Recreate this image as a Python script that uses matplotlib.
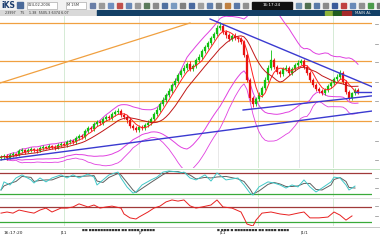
import numpy as np
import pandas as pd
import matplotlib
matplotlib.use("Agg")
import matplotlib.pyplot as plt
from matplotlib.patches import Rectangle

# ---------------- data ----------------
closes = [15,16,14,17,18,17,21,22,20,22,23,22,21,24,25,24,26,25,24,27,
          28,27,30,31,30,34,36,35,41,44,43,48,50,49,53,55,54,58,60,61,
          57,55,52,46,44,42,45,44,47,49,53,58,62,68,72,77,81,87,91,97,
          101,104,108,103,106,112,115,121,125,129,134,138,144,146,140,137,133,136,134,133,
          130,117,92,74,68,73,77,84,92,104,112,105,100,98,103,104,99,103,107,109,
          111,105,99,92,87,83,81,79,82,86,89,93,95,99,90,80,74,79,82,80]
opens = [14,15,16,14,17,18,17,21,22,20,22,23,22,21,24,25,24,26,25,24,
         27,28,27,30,31,30,34,36,35,41,44,43,48,50,49,53,55,54,58,60,
         61,57,55,52,46,44,42,45,44,47,49,53,58,62,68,72,77,81,87,91,
         97,101,104,108,103,106,112,115,121,125,129,134,138,144,146,140,137,133,136,134,
         133,130,117,92,74,68,73,77,84,92,104,112,105,100,98,103,104,99,103,107,
         109,111,105,99,92,87,83,81,79,82,86,89,93,95,99,90,80,74,79,82]
highs = [17,18,18,19,20,19,23,24,23,24,25,24,24,26,27,26,28,27,27,29,
         30,30,32,33,33,36,38,38,43,46,46,50,52,52,55,57,57,60,62,64,
         63,59,57,54,48,46,47,47,49,52,55,60,65,70,75,79,84,89,94,99,
         103,107,110,111,108,114,118,123,127,131,136,140,147,150,148,142,139,138,139,136,
         135,132,119,94,76,75,80,86,95,107,122,114,107,102,105,107,106,105,109,112,
         113,113,107,101,94,89,85,83,84,88,91,95,98,102,101,92,82,80,84,84]
lows = [12,13,12,13,15,16,16,19,18,19,20,20,19,20,22,23,23,23,22,23,
        25,26,25,28,28,28,32,33,33,39,41,41,46,47,47,51,52,52,56,58,
        55,53,49,44,42,40,40,42,42,45,47,51,56,60,66,70,75,79,85,89,
        95,99,102,101,101,104,110,113,119,123,127,132,136,142,138,134,131,131,132,130,
        128,115,90,71,65,66,71,75,82,90,102,103,98,95,96,101,97,97,101,105,
        107,103,97,90,85,81,79,77,77,80,84,87,91,93,88,78,72,72,77,78]

# horizontal support / resistance levels (orange)
levels = [149, 111, 90, 71, 51]
# trend lines: (x0, y0, x1, y1) in bar index / price
orange_trend = [(-0.3, 89, 63, 149)]
blue_trends = [(69.7, 153, 126.3, 82),
               (-0.3, 12, 126.3, 62),
               (80.7, 62, 126.3, 77),
               (118, 80, 126.3, 80)]

# oscillator 1 (stochastic-like)
osc1_idx = [0,1,3,5,7,10,11,13,15,17,20,22,24,26,29,31,32,34,36,39,40,42,44,45,47,50,52,54,56,59,
            60,61,63,65,68,70,72,75,79,81,83,84,86,89,91,93,95,97,99,101,103,105,107,110,111,113,115,116,118]
osc1_val = [25,54,43,68,79,61,50,68,54,68,79,68,79,68,82,71,43,61,79,89,68,36,14,18,43,61,71,89,93,89,
            86,89,68,61,79,57,86,61,68,43,14,7,36,54,50,43,32,43,36,61,36,18,32,54,71,68,43,25,39]
osc1_levels = [86, 11]

# oscillator 2
osc2_idx = [0,2,4,6,9,11,13,15,17,20,22,24,26,29,31,33,35,37,40,41,43,45,46,49,51,53,55,57,59,61,
            63,65,67,70,72,74,77,80,81,82,84,85,87,90,93,96,99,101,103,106,109,111,113,115,117]
osc2_val = [46,50,46,57,50,46,57,64,50,64,64,68,79,68,75,64,68,71,64,43,29,25,32,50,64,71,86,93,89,93,
            72,64,68,75,93,68,64,50,29,7,0,21,46,50,43,39,46,50,29,29,32,50,39,21,36]
osc2_levels = [68, 14]

time_label = "16:17:20"
tick_pos = [20, 46, 73, 100]
tick_txt = ["|11", "|7", "|11", "|1/1"]

# ---------------- figure ----------------
W, H = 380, 240
fig = plt.figure(figsize=(W/100, H/100), dpi=100)
fig.patch.set_facecolor("white")

def px(x0, y0, x1, y1):
    return [x0/W, 1 - y1/H, (x1-x0)/W, (y1-y0)/H]

XLIM = (-0.33, 123.67)

# ---- toolbar ----
tb = fig.add_axes(px(0, 0, 380, 10))
tb.set_xlim(0, 380); tb.set_ylim(10, 0); tb.axis("off")
tb.add_patch(Rectangle((0, 0), 380, 10, color="#f2f2f2"))
tb.text(1, 5.5, "iKS", fontsize=5.5, fontweight="bold", color="#1c3d6e", va="center")
tb.add_patch(Rectangle((17, 2), 6, 6, color="#4a6a9a"))
tb.add_patch(Rectangle((27, 1.5), 30, 7, facecolor="white", edgecolor="#999", lw=0.4))
tb.text(28, 5.3, "024-02-2006", fontsize=2.6, color="#333", va="center")
tb.add_patch(Rectangle((66, 1.5), 20, 7, facecolor="white", edgecolor="#999", lw=0.4))
tb.text(67, 5.3, "M 15M", fontsize=2.6, color="#333", va="center")
icon_cols = ["#6a7fa8", "#9a9a9a", "#7090c0", "#c0504d", "#6a8ab8", "#9a9a9a", "#5a7a5a",
             "#8a8a8a", "#5070a0", "#7a9ac0", "#808080", "#4a6aa0", "#a0a0a0", "#6080b0",
             "#808080", "#c08040", "#5a78a8", "#909090", "#7090b0", "#507050", "#5a7aa8",
             "#8a8a8a", "#3a5a9a", "#c04040", "#6a8ab8", "#909090", "#4a9a4a", "#7a7a7a",
             "#5a7aa8", "#a06030", "#6a8ab8", "#4a6a9a"]
xs = 90
for c in icon_cols:
    if 250 <= xs <= 292:
        xs = 296
    tb.add_patch(Rectangle((xs, 2.5), 5, 5, color=c))
    xs += 9
tb.add_patch(Rectangle((252, 1.5), 40, 7, color="#111"))
tb.text(272, 5.3, "16:17:24", fontsize=3, color="white", va="center", ha="center")

# ---- header strip ----
hd = fig.add_axes(px(0, 10, 380, 16))
hd.set_xlim(0, 380); hd.set_ylim(6, 0); hd.axis("off")
hd.add_patch(Rectangle((0, 0), 97, 6, color="#d9d9d9"))
hd.add_patch(Rectangle((97, 0), 283, 6, color="#123f66"))
hd.text(5, 3.2, "23997    75    1.38  5505.3 6374 6.07", fontsize=2.4, color="#333", va="center")
hd.add_patch(Rectangle((325, 1), 8, 4, color="#8db33a"))
hd.add_patch(Rectangle((333, 1), 9, 4, color="#1f5d1f"))
hd.add_patch(Rectangle((342, 1), 9, 4, color="#a52a2a"))
hd.text(355, 3.2, "MAIN AL", fontsize=2.8, color="#e0e0e0", va="center")

# ---- main price panel ----
ax = fig.add_axes(px(0, 16, 372, 168))
ax.set_xlim(*XLIM); ax.set_ylim(4, 156)
for s in ax.spines.values():
    s.set_visible(False)
ax.tick_params(left=False, labelleft=False, bottom=False, labelbottom=False)

for vx, col in [(21, "#cfe8cf"), (46, "#e4e4e4"), (72.3, "#e4e4e4"), (85.7, "#cfe8cf"),
                (99.3, "#e4e4e4"), (110.7, "#cfe8cf")]:
    ax.axvline(vx, color=col, lw=0.6, zorder=0)

for lv in levels:
    ax.axhline(lv, color="#f0a040", lw=0.9, zorder=1)
for x0, y0, x1, y1 in orange_trend:
    ax.plot([x0, x1], [y0, y1], color="#f0a040", lw=0.9, zorder=1)

s = pd.Series(closes, dtype=float)
mid = s.rolling(20, min_periods=3).mean()
sd = s.rolling(20, min_periods=3).std()
ax.plot(mid + 2*sd, color="#e040e0", lw=0.7, zorder=2)
ax.plot(mid - 2*sd, color="#e040e0", lw=0.7, zorder=2)
ax.plot(mid - 3*sd, color="#e040e0", lw=0.6, zorder=2)
ax.plot(s.rolling(5, min_periods=1).mean(), color="#ff2020", lw=0.7, zorder=4)
ax.plot(s.rolling(12, min_periods=1).mean(), color="#c01818", lw=0.7, zorder=4)

idx = np.arange(len(closes))
for i in idx:
    o, c, hi, lo = opens[i], closes[i], highs[i], lows[i]
    col = "#10c010" if c >= o else "#e81010"
    ax.vlines(i, lo, hi, color=col, lw=0.6, zorder=3)
    ax.add_patch(Rectangle((i - 0.35, min(o, c)), 0.7, max(abs(c - o), 0.6),
                           facecolor=col, edgecolor=col, lw=0.2, zorder=3))

for x0, y0, x1, y1 in blue_trends:
    ax.plot([x0, x1], [y0, y1], color="#3a3ad0", lw=1.0, zorder=5)

# right-side tick marks
rt = fig.add_axes(px(372, 16, 380, 226))
rt.set_xlim(0, 8); rt.set_ylim(226, 16); rt.axis("off")
for ty in [24, 44, 62, 82, 101, 121, 141, 160, 178, 188, 206, 216]:
    rt.plot([3, 6], [ty, ty], color="#888", lw=0.5)

# ---- oscillator 1 ----
o1 = fig.add_axes(px(0, 169, 372, 197))
o1.set_xlim(*XLIM); o1.set_ylim(0, 100)
for sp in o1.spines.values():
    sp.set_visible(False)
o1.tick_params(left=False, labelleft=False, bottom=False, labelbottom=False)
for vx, col in [(21, "#cfe8cf"), (85.7, "#cfe8cf"), (110.7, "#cfe8cf")]:
    o1.axvline(vx, color=col, lw=0.6, zorder=0)
o1.axhline(osc1_levels[0], color="#a03a3a", lw=0.9)
o1.axhline(osc1_levels[1], color="#3aaa3a", lw=0.9)
k = pd.Series(osc1_val, dtype=float)
o1.plot(osc1_idx, k.rolling(2, min_periods=1).mean(), color="#606060", lw=0.7)
o1.plot(osc1_idx, osc1_val, color="#40c8c8", lw=0.7)

# ---- oscillator 2 ----
o2 = fig.add_axes(px(0, 198, 372, 226))
o2.set_xlim(*XLIM); o2.set_ylim(0, 100)
for sp in o2.spines.values():
    sp.set_visible(False)
o2.tick_params(left=False, labelleft=False, bottom=False, labelbottom=False)
for vx, col in [(21, "#cfe8cf"), (85.7, "#cfe8cf"), (110.7, "#cfe8cf")]:
    o2.axvline(vx, color=col, lw=0.6, zorder=0)
o2.axhline(osc2_levels[0], color="#a03a3a", lw=0.9)
o2.axhline(osc2_levels[1], color="#3aaa3a", lw=0.9)
o2.plot(osc2_idx, osc2_val, color="#e82020", lw=0.7)

# separators
sep = fig.add_axes(px(0, 0, 380, 240), facecolor="none")
sep.set_xlim(0, 380); sep.set_ylim(240, 0); sep.axis("off")
sep.plot([0, 380], [168.8, 168.8], color="#b8e0b8", lw=0.6)
sep.plot([0, 380], [197.6, 197.6], color="#dddddd", lw=0.6)
sep.plot([0, 380], [227, 227], color="#c8c8c8", lw=0.7)

# ---- time axis ----
ta = fig.add_axes(px(0, 227, 372, 240))
ta.set_xlim(*XLIM); ta.set_ylim(13, 0)
ta.axis("off")
ta.text(1, 5.5, time_label, fontsize=3.2, color="#222", va="center")
for p, t in zip(tick_pos, tick_txt):
    ta.text(p, 5.5, t, fontsize=3, color="#222", va="center")
ta.text(27, 2.5, "■■ ■■■■■■■■■■■ ■■ ■■■■ ■■■■■", fontsize=2.2, color="#333", va="center")
ta.text(72, 2.5, "■ ■■■ ■ ■■■■■■■■ ■■ ■■■■ ■■■■", fontsize=2.2, color="#333", va="center")

fig.savefig("out.png", dpi=100, facecolor="white")
